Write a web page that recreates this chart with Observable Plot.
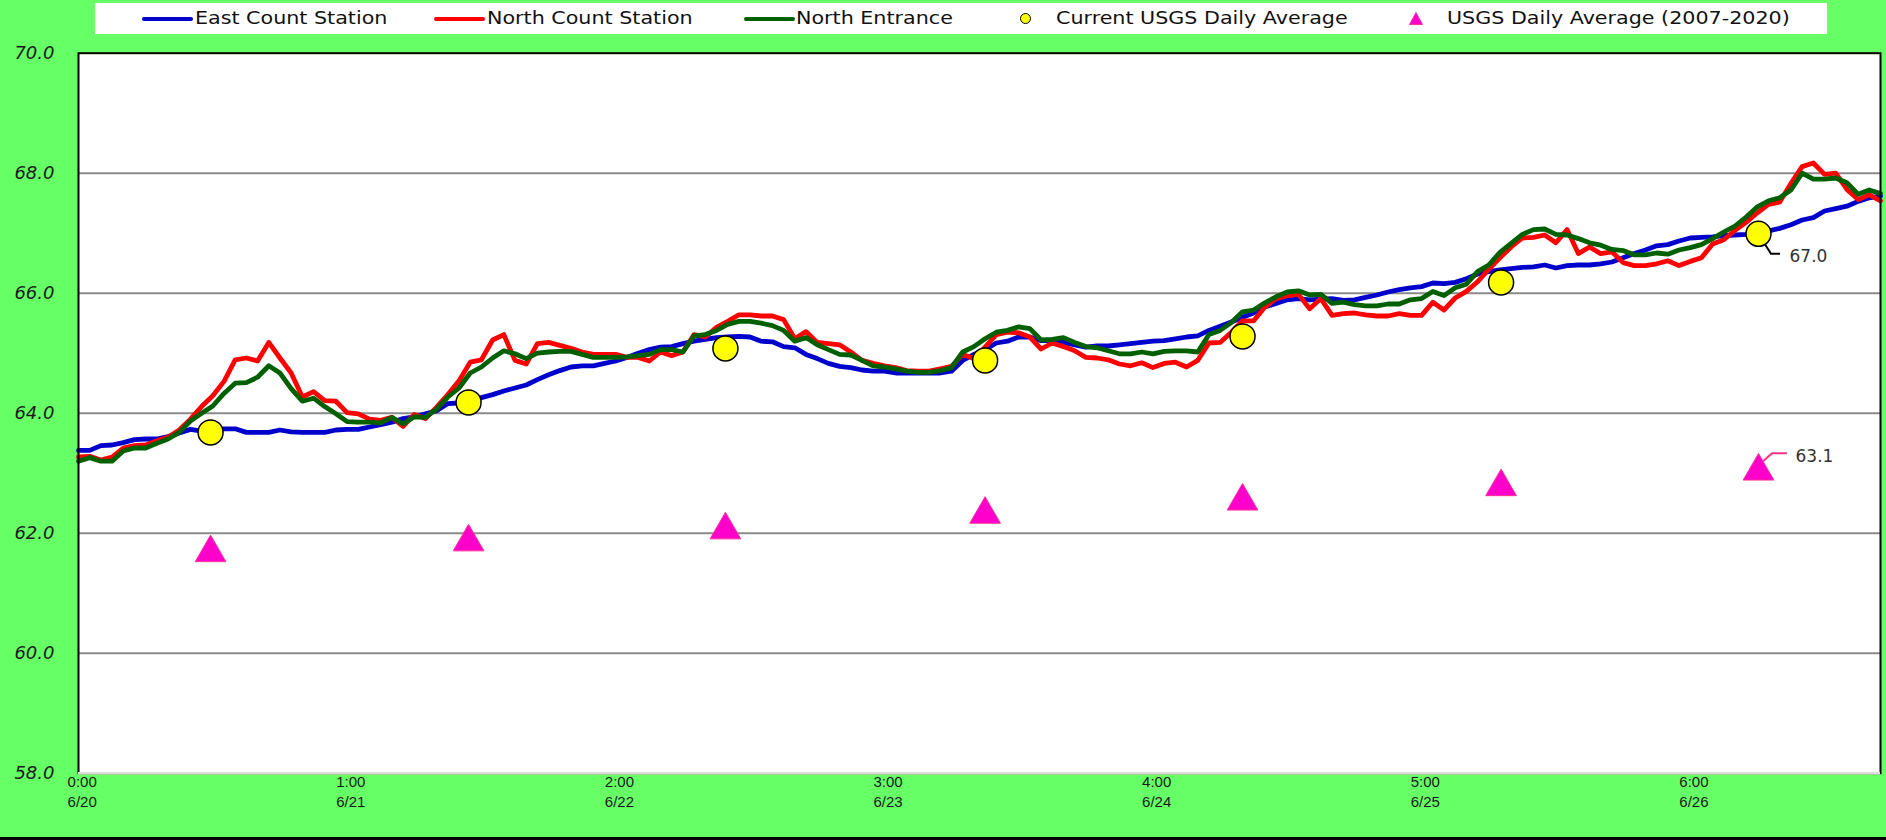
<!DOCTYPE html>
<html>
<head>
<meta charset="utf-8">
<script src="https://cdn.jsdelivr.net/npm/d3@7"></script>
<script src="https://cdn.jsdelivr.net/npm/@observablehq/plot@0.6"></script>
<style>
  html, body { margin: 0; padding: 0; }
  body { width: 1886px; height: 840px; background: #66FF66; overflow: hidden; }
  #legend { position: relative; height: 34px; }
  #legend .box { position: absolute; left: 95px; top: 3px; width: 1732px; height: 31px; background: #fff; }
  #legend .sample { position: absolute; height: 4px; border-radius: 2px; top: 16.5px; width: 51px; }
  #legend .lbl { position: absolute; top: 7px; font-family: "DejaVu Sans", sans-serif; font-size: 17.5px; line-height: 22px;
                 color: #111; white-space: nowrap; transform-origin: 0 50%; transform: scaleX(1.18); }
  #legend .circ { position: absolute; width: 9px; height: 9px; border-radius: 50%; background: #FFFF00; border: 1.5px solid #000; top: 12.5px; }
  #legend svg.tri { position: absolute; top: 12px; }
  #chart svg { overflow: visible; }
  #bottomline { height: 3px; background: #000; }
</style>
</head>
<body>
<div id="legend"><div class="box"></div></div>
<div id="chart"></div>
<div id="bottomline"></div>
<script>
// ---------------- data ----------------
const seriesNames = ["East Count Station", "North Count Station", "North Entrance"];
const seriesColors = ["#0000CC", "#FF0000", "#006000"];
const pointNames = ["Current USGS Daily Average", "USGS Daily Average (2007-2020)"];

// hourly readings, hour 0 = 0:00 6/20
const hours = d3.range(162);
const eastCount = [
  63.38,63.38,63.46,63.47,63.51,63.56,63.57,63.57,63.61,63.67,63.73,63.70,63.71,63.74,63.74,63.68,63.68,63.68,63.72,63.69,
  63.68,63.68,63.68,63.72,63.73,63.73,63.77,63.81,63.85,63.91,63.94,63.99,64.04,64.16,64.17,64.21,64.26,64.31,64.37,64.42,
  64.47,64.56,64.64,64.71,64.77,64.79,64.79,64.83,64.87,64.93,65.00,65.06,65.10,65.11,65.16,65.20,65.23,65.26,65.27,65.28,
  65.27,65.20,65.19,65.11,65.09,64.98,64.91,64.83,64.78,64.76,64.72,64.70,64.70,64.67,64.67,64.67,64.67,64.67,64.70,64.88,
  64.98,65.06,65.17,65.20,65.27,65.27,65.21,65.21,65.18,65.14,65.10,65.12,65.12,65.14,65.16,65.18,65.20,65.21,65.24,65.27,
  65.29,65.38,65.45,65.52,65.60,65.67,65.77,65.83,65.89,65.91,65.89,65.90,65.91,65.88,65.89,65.93,65.97,66.02,66.06,66.09,
  66.11,66.17,66.16,66.18,66.24,66.32,66.36,66.39,66.41,66.43,66.44,66.47,66.42,66.46,66.47,66.47,66.49,66.52,66.59,66.66,
  66.72,66.79,66.81,66.87,66.92,66.93,66.94,66.96,66.97,66.98,67.01,67.04,67.08,67.14,67.22,67.26,67.37,67.41,67.45,67.53,
  67.59,67.62
];
const northCount = [
  63.27,63.28,63.22,63.27,63.42,63.46,63.47,63.54,63.60,63.72,63.90,64.11,64.29,64.53,64.89,64.92,64.87,65.18,64.92,64.67,
  64.27,64.36,64.21,64.20,64.01,63.99,63.90,63.88,63.93,63.78,63.98,63.91,64.10,64.31,64.54,64.85,64.89,65.22,65.31,64.88,
  64.82,65.16,65.18,65.13,65.08,65.02,64.98,64.98,64.98,64.93,64.93,64.87,65.02,64.96,65.02,65.31,65.27,65.43,65.53,65.64,
  65.64,65.62,65.62,65.56,65.24,65.36,65.18,65.16,65.14,65.02,64.88,64.83,64.79,64.76,64.71,64.70,64.70,64.74,64.78,64.98,
  64.91,65.10,65.31,65.35,65.34,65.27,65.07,65.17,65.11,65.04,64.93,64.92,64.89,64.82,64.79,64.84,64.76,64.83,64.85,64.77,
  64.88,65.17,65.18,65.35,65.54,65.54,65.77,65.91,65.96,65.98,65.74,65.91,65.63,65.66,65.67,65.64,65.62,65.62,65.66,65.63,
  65.63,65.85,65.72,65.92,66.03,66.19,66.40,66.59,66.77,66.92,66.93,66.97,66.84,67.06,66.66,66.77,66.66,66.69,66.51,66.46,
  66.46,66.49,66.54,66.46,66.53,66.59,66.82,66.89,67.05,67.18,67.34,67.48,67.52,67.83,68.11,68.17,67.98,68.00,67.73,67.56,
  67.64,67.54
];
const northEntrance = [
  63.20,63.26,63.20,63.20,63.37,63.42,63.42,63.50,63.57,63.68,63.87,64.00,64.12,64.33,64.50,64.51,64.60,64.79,64.67,64.41,
  64.20,64.25,64.11,63.99,63.86,63.85,63.85,63.84,63.93,63.82,63.94,63.93,64.07,64.27,64.42,64.67,64.77,64.92,65.04,64.99,
  64.91,65.00,65.02,65.03,65.03,64.98,64.93,64.93,64.93,64.94,64.96,64.98,65.06,65.06,65.02,65.29,65.31,65.38,65.48,65.53,
  65.53,65.50,65.46,65.38,65.20,65.26,65.14,65.06,64.98,64.97,64.88,64.79,64.77,64.74,64.70,64.68,64.68,64.71,64.76,65.02,
  65.11,65.24,65.35,65.38,65.44,65.41,65.22,65.23,65.26,65.18,65.11,65.09,65.04,64.99,64.99,65.02,64.99,65.03,65.04,65.04,
  65.02,65.31,65.38,65.51,65.69,65.72,65.84,65.94,66.02,66.04,65.97,65.98,65.83,65.85,65.81,65.79,65.79,65.82,65.82,65.89,
  65.91,66.03,65.96,66.09,66.15,66.36,66.47,66.68,66.83,66.98,67.06,67.07,66.98,66.97,66.91,66.84,66.80,66.73,66.71,66.64,
  66.64,66.67,66.65,66.72,66.76,66.81,66.91,67.02,67.12,67.27,67.44,67.54,67.59,67.72,68.00,67.90,67.90,67.92,67.84,67.65,
  67.72,67.66
];

const dailyHours = [11.8, 34.85, 57.8, 81.0, 104.0, 127.1, 150.1];
const currentDailyAvg = [63.68, 64.18, 65.08, 64.88, 65.28, 66.18, 66.99];
const historicDailyAvg = [61.74, 61.92, 62.12, 62.38, 62.60, 62.84, 63.10];

const yTicks = [58, 60, 62, 64, 66, 68, 70];
const xTickHours = [0, 24, 48, 72, 96, 120, 144];
const xTickTimes = ["0:00", "1:00", "2:00", "3:00", "4:00", "5:00", "6:00"];
const xTickDates = ["6/20", "6/21", "6/22", "6/23", "6/24", "6/25", "6/26"];

// ---------------- legend ----------------
const legend = document.getElementById("legend");
const sampleX = [142, 434, 744];
const labelX = [195, 487, 796];
seriesNames.forEach((name, i) => {
  const s = document.createElement("div");
  s.className = "sample"; s.style.left = sampleX[i] + "px"; s.style.background = seriesColors[i];
  legend.appendChild(s);
  const t = document.createElement("div");
  t.className = "lbl"; t.style.left = labelX[i] + "px"; t.textContent = name;
  legend.appendChild(t);
});
{
  const c = document.createElement("div");
  c.className = "circ"; c.style.left = (1026 - 6) + "px"; legend.appendChild(c);
  const t1 = document.createElement("div");
  t1.className = "lbl"; t1.style.left = "1056px"; t1.textContent = pointNames[0]; legend.appendChild(t1);
  const ns = "http://www.w3.org/2000/svg";
  const sv = document.createElementNS(ns, "svg");
  sv.setAttribute("class", "tri"); sv.setAttribute("width", 14); sv.setAttribute("height", 13);
  sv.style.left = (1416 - 7) + "px";
  const p = document.createElementNS(ns, "path");
  p.setAttribute("d", "M7,0.5L13.5,12.5L0.5,12.5Z"); p.setAttribute("fill", "#FF00CC"); p.setAttribute("stroke", "#FF3399");
  sv.appendChild(p); legend.appendChild(sv);
  const t2 = document.createElement("div");
  t2.className = "lbl"; t2.style.left = "1447px"; t2.textContent = pointNames[1]; legend.appendChild(t2);
}

// ---------------- chart ----------------
const seriesValues = [eastCount, northCount, northEntrance];
const lineData = seriesValues.map((vals, s) => hours.map((h, i) => ({h, v: vals[i], s})));
const current = dailyHours.map((h, i) => ({h, v: currentDailyAvg[i]}));
const historic = dailyHours.map((h, i) => ({h, v: historicDailyAvg[i]}));
const lastCurrent = current[current.length - 1];
const lastHistoric = historic[historic.length - 1];

function leader(datum, pts, color) {
  return (index, scales) => {
    const x = scales.x(datum.h), y = scales.y(datum.v);
    const ns = "http://www.w3.org/2000/svg";
    const path = document.createElementNS(ns, "path");
    path.setAttribute("d", pts.map((p, i) => (i ? "L" : "M") + (x + p[0]) + "," + (y + p[1])).join(""));
    path.setAttribute("fill", "none");
    path.setAttribute("stroke", color);
    path.setAttribute("stroke-width", 2);
    return path;
  };
}

const chart = Plot.plot({
  width: 1886,
  height: 803,
  marginTop: 18.7,
  marginBottom: 64.3,
  marginLeft: 78,
  marginRight: 6,
  x: {domain: [0, 161], axis: null},
  y: {domain: [58, 70], axis: null},
  style: {background: "transparent", overflow: "visible"},
  marks: [
    Plot.frame({fill: "#fff"}),
    Plot.ruleY([60, 62, 64, 66, 68], {stroke: "#8a8a8a", strokeWidth: 2}),
    ...lineData.map((d, s) => Plot.line(d, {x: "h", y: "v", stroke: seriesColors[s], strokeWidth: 4.8, strokeLinejoin: "round"})),
    Plot.frame({stroke: "#000", strokeWidth: 2}),
    Plot.ruleY([58], {stroke: "#dcdcdc", strokeWidth: 2.5}),
    leader(lastHistoric, [[0, -1], [14, -13.5], [29, -13.5]], "#FF3385"),
    leader(lastCurrent, [[0, 0], [13, 20.5], [22, 20.5]], "#000"),
    Plot.dot(historic, {x: "h", y: "v", symbol: "triangle", r: 11.4, dy: 4, fill: "#FF00CC", stroke: "#FF3399", strokeWidth: 1}),
    Plot.dot(current, {x: "h", y: "v", r: 12.5, fill: "#FFFF00", stroke: "#000", strokeWidth: 1.5}),
    Plot.text([lastCurrent], {x: "h", y: "v", text: d => d.v.toFixed(1), dx: 31, dy: 22.7, textAnchor: "start",
      fontSize: 17, fontFamily: "DejaVu Sans", fill: "#333"}),
    Plot.text([lastHistoric], {x: "h", y: "v", text: d => d.v.toFixed(1), dx: 37, dy: -10.7, textAnchor: "start",
      fontSize: 17, fontFamily: "DejaVu Sans", fill: "#333"}),
    Plot.text(yTicks, {y: d => d, frameAnchor: "left", dx: -24, textAnchor: "end", text: d => d.toFixed(1),
      fontSize: 18, fontStyle: "italic", fontFamily: "DejaVu Sans", fill: "#1a1a1a"}),
    Plot.text(xTickHours, {x: d => d, frameAnchor: "bottom", dy: 33.3, dx: 3.7,
      text: (d, i) => xTickTimes[i] + "\n" + xTickDates[i], lineHeight: 1.33,
      fontSize: 15, fontFamily: "Liberation Sans", fill: "#1a1a1a"})
  ]
});
chart.style.display = "block";
document.getElementById("chart").appendChild(chart);
</script>
</body>
</html>
